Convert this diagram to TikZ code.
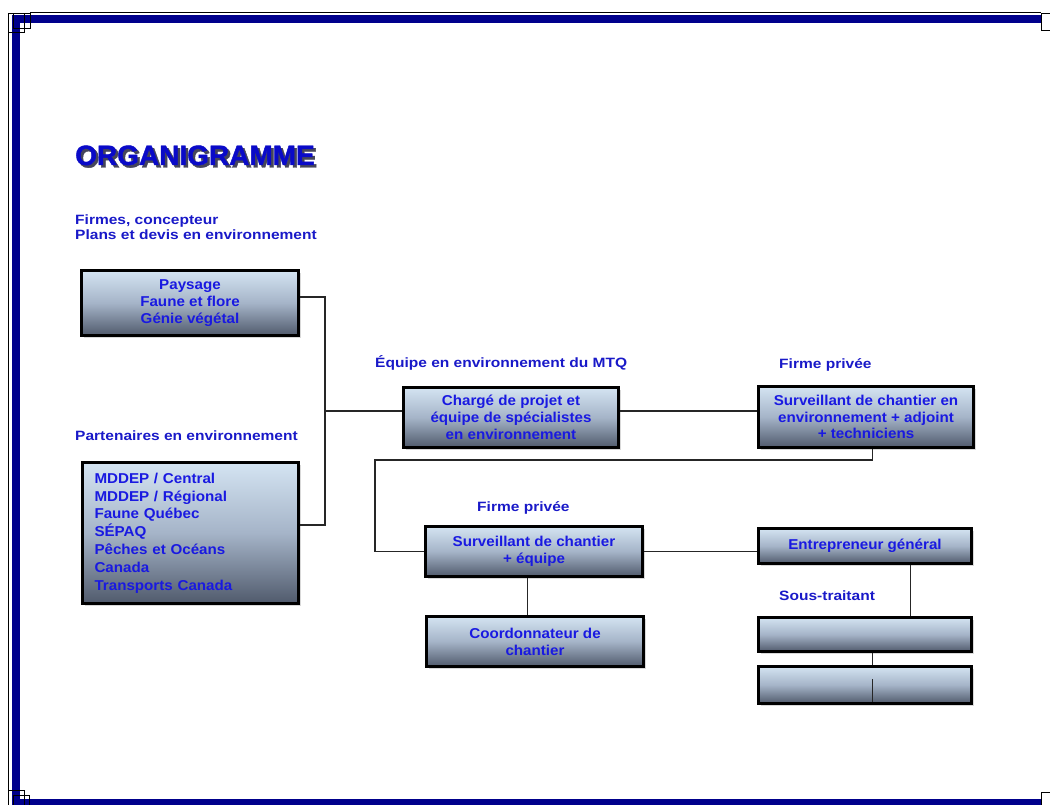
\documentclass[tikz,border=0pt]{standalone}
\usepackage{fontspec}
\setmainfont{Liberation Sans}
\newfontfamily\lblfont{Liberation Sans}[FakeStretch=1.15]
\newfontfamily\boxfont{Liberation Sans}[FakeStretch=1.06]
\newfontfamily\titfont{Liberation Sans}[BoldFeatures={FakeBold=1.5}]
\usetikzlibrary{shadows}
\definecolor{framblue}{RGB}{0,0,140}
\definecolor{boxtop}{RGB}{212,228,242}
\definecolor{boxmid}{RGB}{165,180,200}
\definecolor{boxbot}{RGB}{80,90,108}
\definecolor{boxtext}{RGB}{25,25,225}
\definecolor{lbltext}{RGB}{25,25,200}
\definecolor{titblue}{RGB}{10,10,200}
\definecolor{titshadow}{RGB}{70,70,90}

\begin{document}
\begin{tikzpicture}[x=1pt,y=-1pt]
\tikzstyle{box}=[draw,line width=3pt,top color=boxtop,bottom color=boxbot,middle color=boxmid,inner sep=0pt,align=center,text=boxtext,font=\boxfont\bfseries\fontsize{14.3}{16.8}\selectfont,drop shadow={shadow xshift=2.5pt,shadow yshift=-2.5pt,opacity=0.3}]
\tikzstyle{lbl}=[anchor=base west,inner sep=0pt,align=left,text=lbltext,font=\lblfont\bfseries\fontsize{13.5}{15}\selectfont]
\tikzstyle{link}=[line width=1.3pt,draw=black!85]
\useasboundingbox (0,0) rectangle (1050,805);
\begin{scope}
\clip (0,0) rectangle (1050,805);
\draw[line width=8pt,framblue] (1042,19) -- (16,19) -- (16,803) -- (1042,803);
\draw[line width=0.8pt] (30,12.5) -- (1041,12.5);
\draw[line width=0.8pt] (8.3,32) -- (8.3,790);
\draw[line width=0.8pt] (8.3,13) rectangle (24,32) (13,13) rectangle (30,28);
\draw[line width=0.8pt] (1041,13) rectangle (1052,30);
\draw[line width=0.8pt] (8.3,790) rectangle (24,810) (13,795) rectangle (29,810);
\draw[line width=0.8pt] (1041,792) rectangle (1052,810);
\end{scope}

\node (TITS) [anchor=base west,inner sep=0pt,text=titshadow,font=\titfont\bfseries\fontsize{28}{30}\selectfont] at (77.5,167.5) {ORGANIGRAMME};
\node (TIT) [anchor=base west,inner sep=0pt,text=titblue,font=\titfont\bfseries\fontsize{28}{30}\selectfont] at (75,165) {ORGANIGRAMME};

\node (FIR) [lbl] at (75,239.5) {Firmes, concepteur\\Plans et devis en environnement};
\node (PEN) [lbl] at (75,440) {Partenaires en environnement};
\node (EQ) [lbl] at (375,367) {Équipe en environnement du MTQ};
\node (FP1) [lbl] at (779,368) {Firme privée};
\node (FP2) [lbl] at (477,511) {Firme privée};
\node (SOUS) [lbl] at (779,600) {Sous-traitant};

\node (PAY) [box,minimum width=217pt,minimum height=65pt] at (190,303) {Paysage\\Faune et flore\\Génie végétal};
\node (PART) [box,minimum height=141pt,text width=191pt,inner xsep=12.5pt,align=left,font=\boxfont\bfseries\fontsize{14.3}{17.8}\selectfont] at (190,533) {MDDEP / Central\\MDDEP / Régional\\Faune Québec\\SÉPAQ\\Pêches et Océans\\Canada\\Transports Canada};
\node (CHP) [box,minimum width=215pt,minimum height=60pt] at (511,417.5) {Chargé de projet et\\équipe de spécialistes\\en environnement};
\node (SV1) [box,minimum width=215pt,minimum height=61pt] at (866,417) {Surveillant de chantier en\\environnement + adjoint\\+ techniciens};
\node (SV2) [box,minimum width=217pt,minimum height=50pt] at (534,551.5) {Surveillant de chantier\\+ équipe};
\node (COOR) [box,minimum width=217pt,minimum height=50pt] at (535,641.5) {Coordonnateur de\\chantier};
\node (ENT) [box,minimum width=213pt,minimum height=35pt] at (865,546) {Entrepreneur général};
\node (ST1) [box,minimum width=213pt,minimum height=34pt] at (865,634.5) {};
\node (ST2) [box,minimum width=213pt,minimum height=37pt] at (865,685) {};

\coordinate (J1) at (325,411);
\coordinate (J2) at (375,460);
\draw[link] ([yshift=6pt]PAY.east) -| (J1);
\draw[link] ([yshift=8pt]PART.east) -| (J1);
\draw[link] (J1) -- ([yshift=6.5pt]CHP.west);
\draw[link] ([yshift=6.5pt]CHP.east) -- ([yshift=6pt]SV1.west);
\draw[link] ([xshift=6.3pt]SV1.south) |- (J2) |- (SV2.west);
\draw[link] (SV2.east) -- (SV2.east -| ENT.west);
\draw[link] ([xshift=-6.3pt]SV2.south) -- ([xshift=-7.3pt]COOR.north);
\draw[link] ([xshift=45.7pt]ENT.south) -- ([xshift=45.7pt]ST1.north);
\draw[link] ([xshift=7.3pt]ST1.south) -- ([xshift=7.3pt]ST2.north);
\draw[link] ([xshift=7.3pt,yshift=3.5pt]ST2.south) -- ([xshift=7.3pt,yshift=26.5pt]ST2.south);
\end{tikzpicture}
\end{document}
